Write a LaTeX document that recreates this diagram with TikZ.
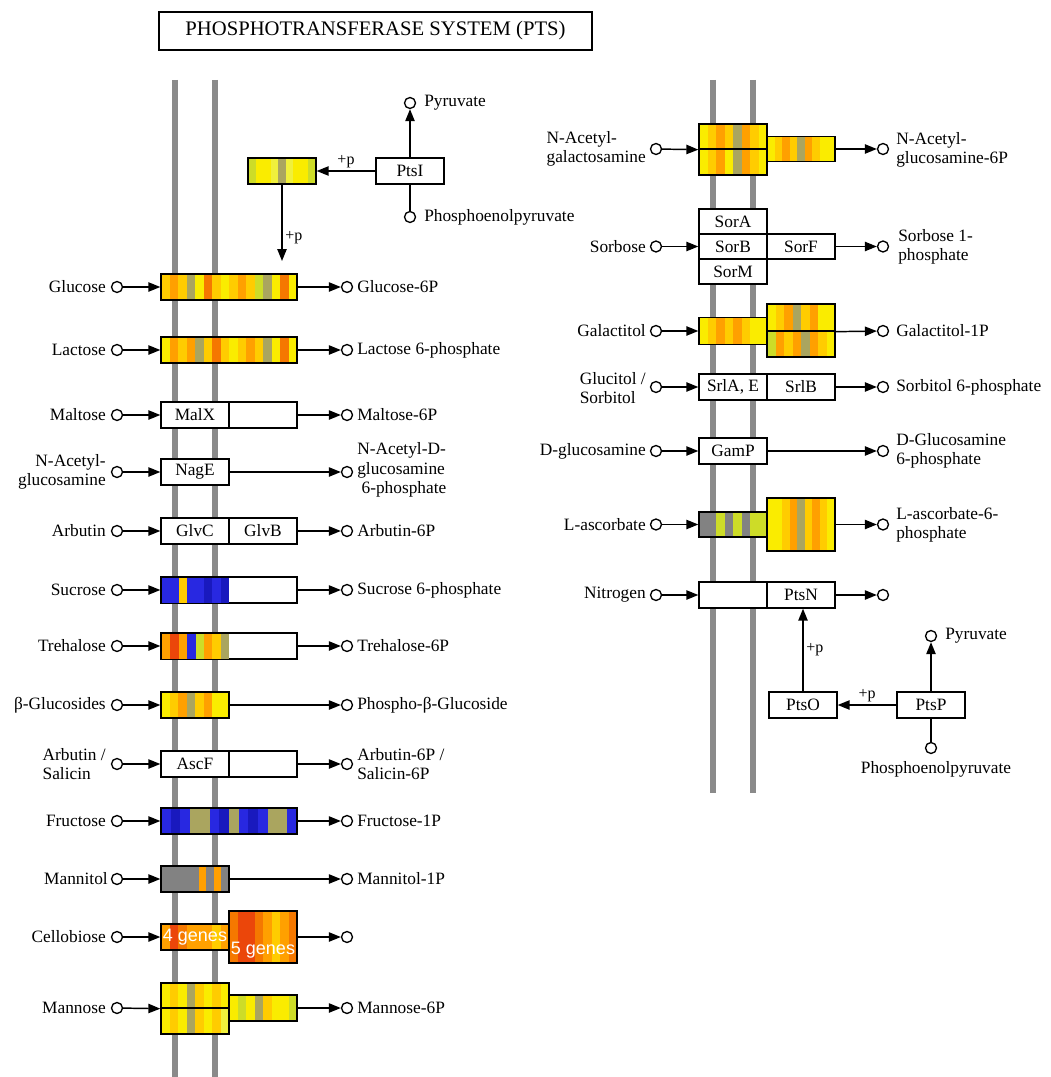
\documentclass[tikz,border=0pt]{standalone}
\usepackage{fontspec}
\setmainfont{Liberation Serif}
\setsansfont{Liberation Sans}
\usepackage{tikz}
\usetikzlibrary{arrows.meta}
\usetikzlibrary{calc}

\newlength{\pu}
\setlength{\pu}{0.75pt}

\newcommand{\cpdfont}{\fontsize{13}{14.5}\selectfont}
\newcommand{\plusfont}{\fontsize{12}{13}\selectfont}
\newcommand{\titlefont}{\fontsize{15.5}{18}\selectfont}
\newcommand{\genesfont}{\sffamily\fontsize{13.5}{15}\selectfont}

\definecolor{membranegray}{RGB}{138,138,138}
\definecolor{hY}{RGB}{250,236,0}
\definecolor{hYl}{RGB}{240,240,60}
\definecolor{hGd}{RGB}{255,204,0}
\definecolor{hO}{RGB}{255,160,0}
\definecolor{hOd}{RGB}{245,120,0}
\definecolor{hR}{RGB}{235,70,10}
\definecolor{hV}{RGB}{170,165,95}
\definecolor{hYg}{RGB}{205,220,40}
\definecolor{hB}{RGB}{40,40,225}
\definecolor{hBd}{RGB}{25,25,190}
\definecolor{hK}{RGB}{130,130,130}

\tikzset{
  membrane/.style={membranegray, line width=4.5pt},
  titlebox/.style={draw, line width=2pt, minimum width=433\pu, minimum height=38\pu, inner sep=0pt, font=\titlefont},
  cpd/.style={circle, draw, fill=white, line width=1pt, minimum size=11\pu, inner sep=0pt},
  gene/.style={rectangle, draw, fill=white, line width=1pt, minimum width=68\pu, minimum height=26\pu, inner sep=0pt, font=\cpdfont},
  heat/.style={gene, path picture={
      \foreach \hc [count=\n] in {#1} {\global\let\nheat\n}
      \foreach \hc [count=\i] in {#1} {
        \fill[fill=\hc] ($(path picture bounding box.south west)!{(\i-1)/\nheat}!(path picture bounding box.south east)$)
          rectangle ($(path picture bounding box.north west)!{\i/\nheat}!(path picture bounding box.north east)$);
      }
    }},
  lbl/.style={font=\cpdfont, inner sep=0pt},
  react/.style={line width=1.1pt, -{Triangle[length=9pt,width=7pt]}},
  link/.style={line width=1.1pt},
  pplus/.style={font=\plusfont, inner sep=2pt},
  genes/.style={font=\genesfont, text=white, inner sep=0pt},
}

\begin{document}
\begin{tikzpicture}[x=0.75pt, y=-0.75pt]
    \useasboundingbox[fill=white] (0,0) rectangle (1050,1077);

    \node[titlebox] (title) at (375.5,31) {PHOSPHOTRANSFERASE SYSTEM (PTS)};

    % membranes
    \draw[membrane] (175,80) -- (175,1077);
    \draw[membrane] (215,80) -- (215,1077);
    \draw[membrane] (713,80) -- (713,793);
    \draw[membrane] (753,80) -- (753,793);

    % PtsI -> HPr
    \node[gene] (ptsI) at (410,171) {PtsI};
    \node[cpd] (pyrA) at (410,103) {};
    \node[lbl, anchor=west] (pyrAL) at (424,103) {Pyruvate};
    \node[cpd] (pepA) at (410,217) {};
    \node[lbl, anchor=west] (pepAL) at (424,217) {Phosphoenolpyruvate};
    \node[heat={hYg,hY,hY,hYl,hV,hYl,hY,hY,hYg}] (hpr) at (282,171) {};
    \coordinate (hprtip) at (282,261);
    \draw[react] (ptsI) -- (pyrA);
    \draw[link] (pepA) -- (ptsI);
    \draw[react] (ptsI) -- (hpr) node[pplus, midway, above] {+p};
    \draw[react] (hpr) -- (hprtip) node[pplus, pos=0.7, right] {+p};

    % Glucose
    \node[lbl, anchor=east] (glcL) at (106,287) {Glucose};
    \node[cpd] (glc) at (117,287) {};
    \node[heat={hGd,hO,hGd,hV,hY,hOd,hGd,hY,hGd,hO,hGd,hYg,hV,hY,hOd,hY}, minimum width=136\pu] (glcbox) at (229,287) {};
    \node[cpd] (g6p) at (347,287) {};
    \node[lbl, anchor=west] (g6pL) at (357,287) {Glucose-6P};
    \draw[react] (glc) -- (glcbox);
    \draw[react] (glcbox) -- (g6p);

    % Lactose
    \node[lbl, anchor=east] (lacL) at (106,350) {Lactose};
    \node[cpd] (lac) at (117,350) {};
    \node[heat={hY,hO,hGd,hO,hV,hGd,hOd,hGd,hY,hGd,hO,hGd,hV,hY,hOd,hY}, minimum width=136\pu] (lacbox) at (229,350) {};
    \node[cpd] (lac6p) at (347,350) {};
    \node[lbl, anchor=west] (lac6pL) at (357,350) {Lactose 6-phosphate};
    \draw[react] (lac) -- (lacbox);
    \draw[react] (lacbox) -- (lac6p);

    % Maltose
    \node[lbl, anchor=east] (malL) at (106,415) {Maltose};
    \node[cpd] (mal) at (117,415) {};
    \node[gene] (malX) at (195,415) {MalX};
    \node[gene] (malB) at (263,415) {};
    \node[cpd] (mal6p) at (347,415) {};
    \node[lbl, anchor=west] (mal6pL) at (357,415) {Maltose-6P};
    \draw[react] (mal) -- (malX);
    \draw[react] (malB) -- (mal6p);

    % N-Acetyl-glucosamine
    \node[lbl, anchor=east, align=right] (naglcL) at (106,472) {N-Acetyl-\\glucosamine};
    \node[cpd] (naglc) at (117,472) {};
    \node[gene] (nagE) at (195,472) {NagE};
    \node[cpd] (naglc6p) at (347,472) {};
    \node[lbl, anchor=west, align=left] (naglc6pL) at (357,470) {N-Acetyl-D-\\glucosamine\\\ 6-phosphate};
    \draw[react] (naglc) -- (nagE);
    \draw[react] (nagE) -- (naglc6p);

    % Arbutin
    \node[lbl, anchor=east] (arbL) at (106,531) {Arbutin};
    \node[cpd] (arb) at (117,531) {};
    \node[gene] (glvC) at (195,531) {GlvC};
    \node[gene] (glvB) at (263,531) {GlvB};
    \node[cpd] (arb6p) at (347,531) {};
    \node[lbl, anchor=west] (arb6pL) at (357,531) {Arbutin-6P};
    \draw[react] (arb) -- (glvC);
    \draw[react] (glvB) -- (arb6p);

    % Sucrose
    \node[lbl, anchor=east] (sucL) at (106,590) {Sucrose};
    \node[cpd] (suc) at (117,590) {};
    \node[gene, minimum width=136\pu] (sucbox) at (229,590) {};
    \node[heat={hB,hB,hGd,hB,hB,hBd,hB,hBd}, draw=none, minimum width=67\pu, minimum height=25\pu] (sucPts) at (195.5,590) {};
    \node[cpd] (suc6p) at (347,590) {};
    \node[lbl, anchor=west] (suc6pL) at (357,590) {Sucrose 6-phosphate};
    \draw[react] (suc) -- (sucbox);
    \draw[react] (sucbox) -- (suc6p);

    % Trehalose
    \node[lbl, anchor=east] (treL) at (106,646) {Trehalose};
    \node[cpd] (tre) at (117,646) {};
    \node[gene, minimum width=136\pu] (trebox) at (229,646) {};
    \node[heat={hO,hR,hO,hB,hYg,hO,hGd,hV}, draw=none, minimum width=67\pu, minimum height=25\pu] (trePts) at (195.5,646) {};
    \node[cpd] (tre6p) at (347,646) {};
    \node[lbl, anchor=west] (tre6pL) at (357,646) {Trehalose-6P};
    \draw[react] (tre) -- (trebox);
    \draw[react] (trebox) -- (tre6p);

    % beta-Glucosides
    \node[lbl, anchor=east] (bglL) at (106,705) {β-Glucosides};
    \node[cpd] (bgl) at (117,705) {};
    \node[heat={hY,hGd,hO,hV,hGd,hO,hY,hY}] (bglPts) at (195,705) {};
    \node[cpd] (pbgl) at (347,705) {};
    \node[lbl, anchor=west] (pbglL) at (357,705) {Phospho-β-Glucoside};
    \draw[react] (bgl) -- (bglPts);
    \draw[react] (bglPts) -- (pbgl);

    % Arbutin / Salicin
    \node[lbl, anchor=east, align=left] (salL) at (106,764) {Arbutin /\\Salicin};
    \node[cpd] (sal) at (117,764) {};
    \node[gene] (ascF) at (195,764) {AscF};
    \node[gene] (ascB) at (263,764) {};
    \node[cpd] (sal6p) at (347,764) {};
    \node[lbl, anchor=west, align=left] (sal6pL) at (357,764) {Arbutin-6P /\\Salicin-6P};
    \draw[react] (sal) -- (ascF);
    \draw[react] (ascB) -- (sal6p);

    % Fructose
    \node[lbl, anchor=east] (fruL) at (106,821) {Fructose};
    \node[cpd] (fru) at (117,821) {};
    \node[heat={hB,hBd,hB,hV,hV,hB,hBd,hV,hB,hBd,hB,hV,hV,hB}, minimum width=136\pu] (frubox) at (229,821) {};
    \node[cpd] (fru1p) at (347,821) {};
    \node[lbl, anchor=west] (fru1pL) at (357,821) {Fructose-1P};
    \draw[react] (fru) -- (frubox);
    \draw[react] (frubox) -- (fru1p);

    % Mannitol
    \node[lbl, anchor=east] (mtlL) at (108,879) {Mannitol};
    \node[cpd] (mtl) at (117,879) {};
    \node[heat={hK,hK,hK,hK,hK,hO,hK,hO,hK}] (mtlPts) at (195,879) {};
    \node[cpd] (mtl1p) at (347,879) {};
    \node[lbl, anchor=west] (mtl1pL) at (357,879) {Mannitol-1P};
    \draw[react] (mtl) -- (mtlPts);
    \draw[react] (mtlPts) -- (mtl1p);

    % Cellobiose
    \node[lbl, anchor=east] (celL) at (106,937) {Cellobiose};
    \node[cpd] (cel) at (117,937) {};
    \node[heat={hO,hR,hOd,hO,hO,hO,hGd,hO}, genes] (celA) at (195,937) {4 genes};
    \node[heat={hOd,hR,hR,hOd,hO,hGd,hO,hOd}, minimum height=52\pu] (celB) at (263,937) {};
    \node[genes] (celBL) at (263,950) {5 genes};
    \node[cpd] (celP) at (347,937) {};
    \draw[react] (cel) -- (celA);
    \draw[react] (celB) -- (celP);

    % Mannose
    \node[lbl, anchor=east] (manL) at (106,1008) {Mannose};
    \node[cpd] (man) at (117,1008) {};
    \node[heat={hY,hGd,hY,hV,hGd,hY,hGd,hY}, minimum height=25\pu] (manA) at (195,995.5) {};
    \node[heat={hY,hGd,hY,hV,hGd,hY,hGd,hYl}, minimum height=26\pu] (manC) at (195,1021) {};
    \node[heat={hY,hYg,hY,hV,hGd,hY,hY,hYg}] (manB) at (263,1008) {};
    \node[cpd] (man6p) at (347,1008) {};
    \node[lbl, anchor=west] (man6pL) at (357,1008) {Mannose-6P};
    \draw[react] (man) -- (manA.south west);
    \draw[react] (manB) -- (man6p);

    % N-Acetyl-galactosamine
    \node[lbl, anchor=east, align=left] (nagalL) at (646,149) {N-Acetyl-\\galactosamine};
    \node[cpd] (nagal) at (656,149) {};
    \node[heat={hY,hGd,hO,hGd,hV,hO,hGd,hY}, minimum height=25\pu] (agaA) at (733,136.5) {};
    \node[heat={hY,hGd,hO,hY,hV,hO,hGd,hY}, minimum height=26\pu] (agaC) at (733,162) {};
    \node[heat={hY,hGd,hO,hGd,hV,hO,hGd,hY,hY}, minimum height=25\pu] (agaB) at (801,149) {};
    \node[cpd] (naglc6pB) at (883,149) {};
    \node[lbl, anchor=west, align=left] (naglc6pBL) at (896,150) {N-Acetyl-\\glucosamine-6P};
    \draw[react] (nagal) -- (agaA.south west);
    \draw[react] (agaB) -- (naglc6pB);

    % Sorbose
    \node[gene, minimum height=25\pu] (sorA) at (733,221.5) {SorA};
    \node[gene, minimum height=25\pu] (sorB) at (733,246.5) {SorB};
    \node[gene, minimum height=25\pu] (sorM) at (733,271.5) {SorM};
    \node[gene, minimum height=25\pu] (sorF) at (801,246.5) {SorF};
    \node[lbl, anchor=east] (sorL) at (646,246.5) {Sorbose};
    \node[cpd] (sor) at (656,246.5) {};
    \node[cpd] (sor1p) at (883,246.5) {};
    \node[lbl, anchor=west, align=left] (sor1pL) at (898,246.5) {Sorbose 1-\\phosphate};
    \draw[react] (sor) -- (sorB);
    \draw[react] (sorF) -- (sor1p);

    % Galactitol
    \node[lbl, anchor=east] (gatL) at (646,331) {Galactitol};
    \node[cpd] (gat) at (656,331) {};
    \node[heat={hY,hGd,hO,hGd,hO,hGd,hY,hY}, minimum height=27\pu] (gatA) at (733,331) {};
    \node[heat={hY,hGd,hO,hV,hGd,hO,hY,hY}, minimum height=27\pu] (gatB) at (801,317.5) {};
    \node[heat={hYg,hO,hGd,hO,hV,hO,hGd,hY}, minimum height=26\pu] (gatC) at (801,344) {};
    \node[cpd] (gat1p) at (883,331) {};
    \node[lbl, anchor=west] (gat1pL) at (896,331) {Galactitol-1P};
    \draw[react] (gat) -- (gatA);
    \draw[react] (gatB.south east) -- (gat1p);

    % Glucitol / Sorbitol
    \node[lbl, anchor=east, align=left] (gutL) at (646,388) {Glucitol /\\Sorbitol};
    \node[cpd] (gut) at (656,387) {};
    \node[gene] (srlA) at (733,387) {SrlA, E};
    \node[gene] (srlB) at (801,387) {SrlB};
    \node[cpd] (s6p) at (883,387) {};
    \node[lbl, anchor=west] (s6pL) at (896,387) {Sorbitol 6-phosphate};
    \draw[react] (gut) -- (srlA);
    \draw[react] (srlB) -- (s6p);

    % D-glucosamine
    \node[lbl, anchor=east] (gamL) at (646,451) {D-glucosamine};
    \node[cpd] (gam) at (656,451) {};
    \node[gene] (gamP) at (733,451) {GamP};
    \node[cpd] (gam6p) at (883,451) {};
    \node[lbl, anchor=west, align=left] (gam6pL) at (896,451) {D-Glucosamine\\6-phosphate};
    \draw[react] (gam) -- (gamP);
    \draw[react] (gamP) -- (gam6p);

    % L-ascorbate
    \node[lbl, anchor=east] (ascL) at (646,524.5) {L-ascorbate};
    \node[cpd] (asc) at (656,524.5) {};
    \node[heat={hK,hK,hYg,hK,hYg,hK,hYg,hYg}, minimum height=25\pu] (ulaA) at (733,524.5) {};
    \node[heat={hY,hY,hGd,hO,hV,hGd,hO,hGd,hY}, minimum height=53\pu] (ulaB) at (801,524.5) {};
    \node[cpd] (asc6p) at (883,524.5) {};
    \node[lbl, anchor=west, align=left] (asc6pL) at (896,525) {L-ascorbate-6-\\phosphate};
    \draw[react] (asc) -- (ulaA);
    \draw[react] (ulaB) -- (asc6p);

    % Nitrogen
    \node[lbl, anchor=east] (nitL) at (646,595) {Nitrogen};
    \node[cpd] (nit) at (656,595) {};
    \node[gene] (nitA) at (733,595) {};
    \node[gene] (ptsN) at (801,595) {PtsN};
    \node[cpd] (nitP) at (883,595) {};
    \draw[react] (nit) -- (nitA);
    \draw[react] (ptsN) -- (nitP);

    % PtsP -> PtsO -> PtsN
    \node[gene] (ptsO) at (803,705) {PtsO};
    \node[gene] (ptsP) at (931,705) {PtsP};
    \node[cpd] (pyrB) at (931,636) {};
    \node[lbl, anchor=west] (pyrBL) at (945,636) {Pyruvate};
    \node[cpd] (pepB) at (931,748) {};
    \node[lbl] (pepBL) at (936,769) {Phosphoenolpyruvate};
    \draw[react] (ptsP) -- (pyrB);
    \draw[link] (pepB) -- (ptsP);
    \draw[react] (ptsP) -- (ptsO) node[pplus, midway, above] {+p};
    \draw[react] (ptsO) -- (ptsO |- ptsN.south) node[pplus, midway, right] {+p};
\end{tikzpicture}
\end{document}
